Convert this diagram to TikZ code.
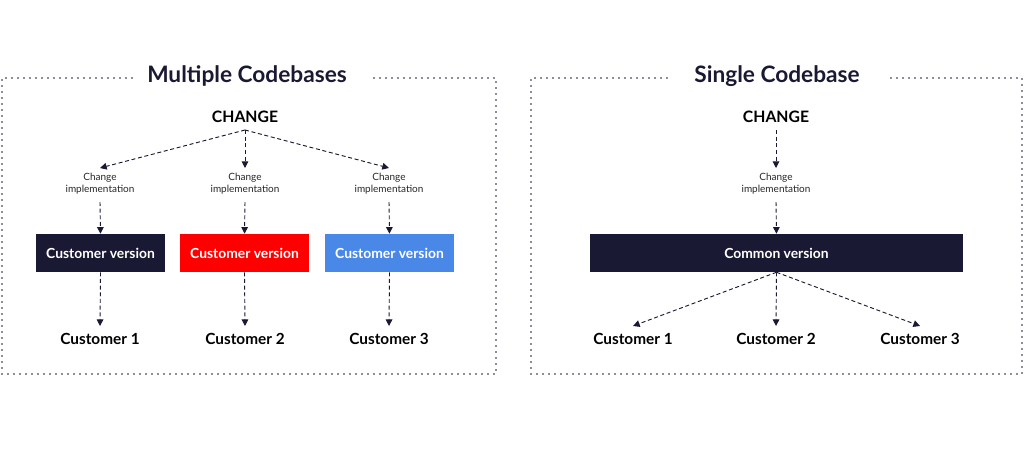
\documentclass[tikz,border=0pt]{standalone}
\usepackage{fontspec}
\setmainfont{Lato}
\usetikzlibrary{arrows.meta}
\definecolor{navy}{HTML}{1A1933}
\definecolor{bluebox}{HTML}{4A88E8}
\definecolor{redbox}{HTML}{FF0000}
\tikzset{
  frame/.style={navy, line width=1.2pt, line cap=round, dash pattern=on 0pt off 4.5pt},
  title/.style={font=\fontsize{17}{20}\selectfont\bfseries, text=navy},
  change/.style={font=\fontsize{11.8}{14}\selectfont\bfseries, text=black},
  impl/.style={font=\fontsize{7.5}{9.2}\selectfont, text=black!85, align=center},
  cust/.style={font=\fontsize{11.5}{14}\selectfont\bfseries, text=black},
  verbox/.style={minimum width=96.75pt, minimum height=28.5pt, inner sep=0pt, text=white, font=\fontsize{10.4}{12}\selectfont\bfseries},
  conn/.style={navy, line width=0.7pt, dash pattern=on 3pt off 2pt, -{Triangle[length=5pt,width=5pt]}},
}
\begin{document}
\begin{tikzpicture}[x=0.75pt,y=-0.75pt]
\useasboundingbox (0,0) rectangle (1024,450);
% frames
\draw[frame] (132,78) -- (2,78) -- (2,374) -- (496,374) -- (496,78) -- (368,78);
\draw[frame] (667,78) -- (531,78) -- (531,374) -- (1022,374) -- (1022,78) -- (890,78);
\node[title] (t1) at (247,76) {Multiple Codebases};
\node[title] (t2) at (777,76) {Single Codebase};
% left
\node[change] (c1) at (245,117) {CHANGE};
\coordinate (c1s) at (245,130);
\node[impl] (i1) at (100,184) {Change\\implementation};
\node[impl] (i2) at (245,184) {Change\\implementation};
\node[impl] (i3) at (389,184) {Change\\implementation};
\coordinate (i1t) at (100,168); \coordinate (i2t) at (245,168); \coordinate (i3t) at (389,168);
\coordinate (i1b) at (100,202); \coordinate (i2b) at (245,202); \coordinate (i3b) at (389,202);
\draw[conn] (c1s) -- (i1t);
\draw[conn] (c1s) -- (i2t);
\draw[conn] (c1s) -- (i3t);
\node[verbox, fill=navy] (v1) at (100.5,253) {Customer version};
\node[verbox, fill=redbox] (v2) at (244.5,253) {Customer version};
\node[verbox, fill=bluebox] (v3) at (389.5,253) {Customer version};
\draw[conn] (i1b) -- (v1.north);
\draw[conn] (i2b) -- (v2.north);
\draw[conn] (i3b) -- (v3.north);
\node[cust] (k1) at (100,339) {Customer 1};
\node[cust] (k2) at (245,339) {Customer 2};
\node[cust] (k3) at (389,339) {Customer 3};
\draw[conn] (v1.south) -- (100,326);
\draw[conn] (v2.south) -- (245,326);
\draw[conn] (v3.south) -- (389,326);
% right
\node[change] (c2) at (776,117) {CHANGE};
\node[impl] (j1) at (776,184) {Change\\implementation};
\draw[conn] (776,130) -- (776,168);
\node[verbox, fill=navy, minimum width=279.75pt] (cv) at (776.5,253) {Common version};
\draw[conn] (776,202) -- (cv.north);
\node[cust] (m1) at (633,339) {Customer 1};
\node[cust] (m2) at (776,339) {Customer 2};
\node[cust] (m3) at (920,339) {Customer 3};
\draw[conn] (cv.south) -- (633,326);
\draw[conn] (cv.south) -- (776,326);
\draw[conn] (cv.south) -- (920,326);
\end{tikzpicture}
\end{document}
